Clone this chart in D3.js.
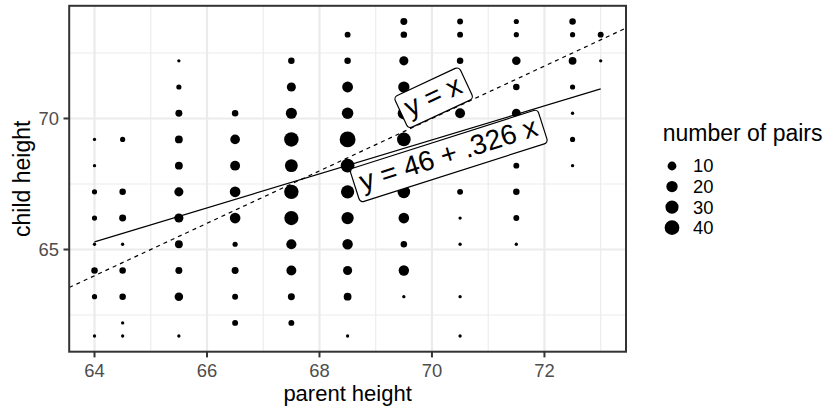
<!DOCTYPE html>
<html>
<head>
<meta charset="utf-8">
<script src="https://cdn.jsdelivr.net/npm/d3@7"></script>
<style>
  html, body { margin: 0; padding: 0; background: #fff; }
  svg { display: block; font-family: "Liberation Sans", Arial, Helvetica, sans-serif; }
</style>
</head>
<body>
<svg id="chart"></svg>
<script>
// Galton's parent / child heights, counted per cell
const parentHeights = [64, 64.5, 65.5, 66.5, 67.5, 68.5, 69.5, 70.5, 71.5, 72.5, 73];
const childHeights = [73.7, 73.2, 72.2, 71.2, 70.2, 69.2, 68.2, 67.2, 66.2, 65.2, 64.2, 63.2, 62.2, 61.7];
// one row per child height, one column per parent height
const pairCounts = [
  [0, 0, 0, 0, 0, 0, 5, 3, 2, 4, 0],
  [0, 0, 0, 0, 0, 3, 4, 3, 2, 2, 3],
  [0, 0, 1, 0, 4, 4, 11, 4, 9, 7, 1],
  [0, 0, 2, 0, 11, 18, 20, 7, 4, 2, 0],
  [0, 0, 5, 4, 19, 21, 25, 14, 10, 1, 0],
  [1, 2, 7, 13, 38, 48, 33, 18, 5, 2, 0],
  [1, 0, 7, 14, 28, 34, 20, 12, 3, 1, 0],
  [2, 4, 11, 17, 38, 31, 27, 3, 4, 0, 0],
  [2, 5, 11, 17, 36, 25, 17, 1, 3, 0, 0],
  [1, 1, 7, 2, 15, 16, 4, 1, 1, 0, 0],
  [4, 4, 5, 5, 14, 11, 16, 0, 0, 0, 0],
  [2, 4, 9, 3, 5, 7, 1, 1, 0, 0, 0],
  [0, 1, 0, 3, 3, 0, 0, 0, 0, 0, 0],
  [1, 1, 1, 0, 0, 1, 0, 1, 0, 0, 0]
];
const xTicks = [64, 66, 68, 70, 72];
const yTicks = [65, 70];
const legendBreaks = [10, 20, 30, 40];
const labelTexts = ['y = x', 'y = 46 + .326 x'];

const W = 827, H = 406;

const svg = d3.select('#chart')
  .attr('width', W).attr('height', H)
  .attr('viewBox', [0, 0, W, H]);

const panel = { left: 69.2, right: 626, top: 5.8, bottom: 351.7 };

const points = [];
childHeights.forEach((c, i) => parentHeights.forEach((p, j) => {
  const n = pairCounts[i][j];
  if (n > 0) points.push({ parent: p, child: c, n: n });
}));

const xExt = d3.extent(parentHeights);
const yExt = d3.extent(childHeights);
const xPad = (xExt[1] - xExt[0]) * 0.05;
const yPad = (yExt[1] - yExt[0]) * 0.05;

const x = d3.scaleLinear().domain([xExt[0] - xPad, xExt[1] + xPad]).range([panel.left, panel.right]);
const y = d3.scaleLinear().domain([yExt[0] - yPad, yExt[1] + yPad]).range([panel.bottom, panel.top]);

// ggplot-like area scale (size 1..6)
const nExt = d3.extent(points, d => d.n);
const size = d3.scaleSqrt().domain([0, nExt[1] - nExt[0]]).range([1, 6]);
const radius = n => 0.44 * (2.845 * size(n - nExt[0]) + 0.945);

// minor breaks sit halfway between majors
function minorBreaks(major, domain) {
  const step = major[1] - major[0];
  const ext = [major[0] - step, ...major, major[major.length - 1] + step];
  const out = [];
  for (let i = 0; i < ext.length - 1; i++) {
    const m = (ext[i] + ext[i + 1]) / 2;
    if (m >= domain[0] && m <= domain[1]) out.push(m);
  }
  return out;
}

const grid = svg.append('g');
grid.selectAll('.xminor').data(minorBreaks(xTicks, x.domain())).join('line')
  .attr('x1', d => x(d)).attr('x2', d => x(d))
  .attr('y1', panel.top).attr('y2', panel.bottom)
  .attr('stroke', '#EBEBEB').attr('stroke-width', 1.1);
grid.selectAll('.yminor').data(minorBreaks(yTicks, y.domain())).join('line')
  .attr('x1', panel.left).attr('x2', panel.right)
  .attr('y1', d => y(d)).attr('y2', d => y(d))
  .attr('stroke', '#EBEBEB').attr('stroke-width', 1.1);
grid.selectAll('.xmajor').data(xTicks).join('line')
  .attr('x1', d => x(d)).attr('x2', d => x(d))
  .attr('y1', panel.top).attr('y2', panel.bottom)
  .attr('stroke', '#EBEBEB').attr('stroke-width', 2.2);
grid.selectAll('.ymajor').data(yTicks).join('line')
  .attr('x1', panel.left).attr('x2', panel.right)
  .attr('y1', d => y(d)).attr('y2', d => y(d))
  .attr('stroke', '#EBEBEB').attr('stroke-width', 2.2);

svg.append('clipPath').attr('id', 'clip')
  .append('rect')
  .attr('x', panel.left).attr('y', panel.top)
  .attr('width', panel.right - panel.left).attr('height', panel.bottom - panel.top);

// points
svg.append('g').selectAll('circle').data(points).join('circle')
  .attr('cx', d => x(d.parent))
  .attr('cy', d => y(d.child))
  .attr('r', d => radius(d.n))
  .attr('fill', '#000');

// weighted least squares of child on parent
let sw = 0, sx = 0, sy = 0, sxx = 0, sxy = 0;
points.forEach(d => {
  sw += d.n; sx += d.n * d.parent; sy += d.n * d.child;
  sxx += d.n * d.parent * d.parent; sxy += d.n * d.parent * d.child;
});
const slope = (sw * sxy - sx * sy) / (sw * sxx - sx * sx);
const intercept = (sy - slope * sx) / sw;

const plotArea = svg.append('g').attr('clip-path', 'url(#clip)');
plotArea.append('line')
  .attr('x1', x(xExt[0])).attr('y1', y(intercept + slope * xExt[0]))
  .attr('x2', x(xExt[1])).attr('y2', y(intercept + slope * xExt[1]))
  .attr('stroke', '#000').attr('stroke-width', 1.2);

const xd = x.domain();
plotArea.append('line')
  .attr('x1', x(xd[0])).attr('y1', y(xd[0]))
  .attr('x2', x(xd[1])).attr('y2', y(xd[1]))
  .attr('stroke', '#000').attr('stroke-width', 1.2)
  .attr('stroke-dasharray', '4,4');

// boxed labels
const labelSpots = [
  { x: 70.03, y: 70.79, angle: -25 },
  { x: 70.3, y: 68.57, angle: -17.7 }
];
const fs = 28, pad = 6, boxH = 35;
labelSpots.forEach((l, i) => {
  const g = svg.append('g')
    .attr('transform', `translate(${x(l.x)},${y(l.y)}) rotate(${l.angle})`);
  const t = g.append('text')
    .attr('text-anchor', 'middle')
    .attr('y', 0.27 * fs)
    .attr('font-size', fs)
    .attr('fill', '#000')
    .text(labelTexts[i]);
  const w = t.node().getComputedTextLength() + 2 * pad;
  g.insert('rect', 'text')
    .attr('x', -w / 2).attr('y', -boxH / 2)
    .attr('width', w).attr('height', boxH)
    .attr('rx', 4).attr('ry', 4)
    .attr('fill', '#fff').attr('stroke', '#000').attr('stroke-width', 1.2);
});

// panel border
svg.append('rect')
  .attr('x', panel.left).attr('y', panel.top)
  .attr('width', panel.right - panel.left).attr('height', panel.bottom - panel.top)
  .attr('fill', 'none').attr('stroke', '#333333').attr('stroke-width', 2);

// axes
const tickLen = 5.7;
const axis = svg.append('g');
axis.selectAll('.xt').data(xTicks).join('line')
  .attr('x1', d => x(d)).attr('x2', d => x(d))
  .attr('y1', panel.bottom).attr('y2', panel.bottom + tickLen)
  .attr('stroke', '#333333').attr('stroke-width', 2);
axis.selectAll('.xl').data(xTicks).join('text')
  .attr('x', d => x(d)).attr('y', 377)
  .attr('text-anchor', 'middle')
  .attr('font-size', 18.4).attr('fill', '#4D4D4D')
  .text(d => d);
axis.selectAll('.yt').data(yTicks).join('line')
  .attr('x1', panel.left - tickLen).attr('x2', panel.left)
  .attr('y1', d => y(d)).attr('y2', d => y(d))
  .attr('stroke', '#333333').attr('stroke-width', 2);
axis.selectAll('.yl').data(yTicks).join('text')
  .attr('x', 58.9).attr('y', d => y(d))
  .attr('dy', '0.35em')
  .attr('text-anchor', 'end')
  .attr('font-size', 18.4).attr('fill', '#4D4D4D')
  .text(d => d);

svg.append('text')
  .attr('x', (panel.left + panel.right) / 2).attr('y', 401)
  .attr('text-anchor', 'middle').attr('font-size', 22)
  .text('parent height');
svg.append('text')
  .attr('transform', `translate(29.8,${(panel.top + panel.bottom) / 2}) rotate(-90)`)
  .attr('text-anchor', 'middle').attr('font-size', 23)
  .text('child height');

// legend
const legend = svg.append('g');
legend.append('text')
  .attr('x', 662.7).attr('y', 140.7)
  .attr('font-size', 23)
  .text('number of pairs');
const keyY = i => 166 + i * 20.55;
legend.selectAll('circle').data(legendBreaks).join('circle')
  .attr('cx', 672).attr('cy', (d, i) => keyY(i))
  .attr('r', d => radius(d)).attr('fill', '#000');
legend.selectAll('.lt').data(legendBreaks).join('text')
  .attr('x', 693).attr('y', (d, i) => keyY(i))
  .attr('dy', '0.35em')
  .attr('font-size', 18.4)
  .text(d => d);
</script>
</body>
</html>
